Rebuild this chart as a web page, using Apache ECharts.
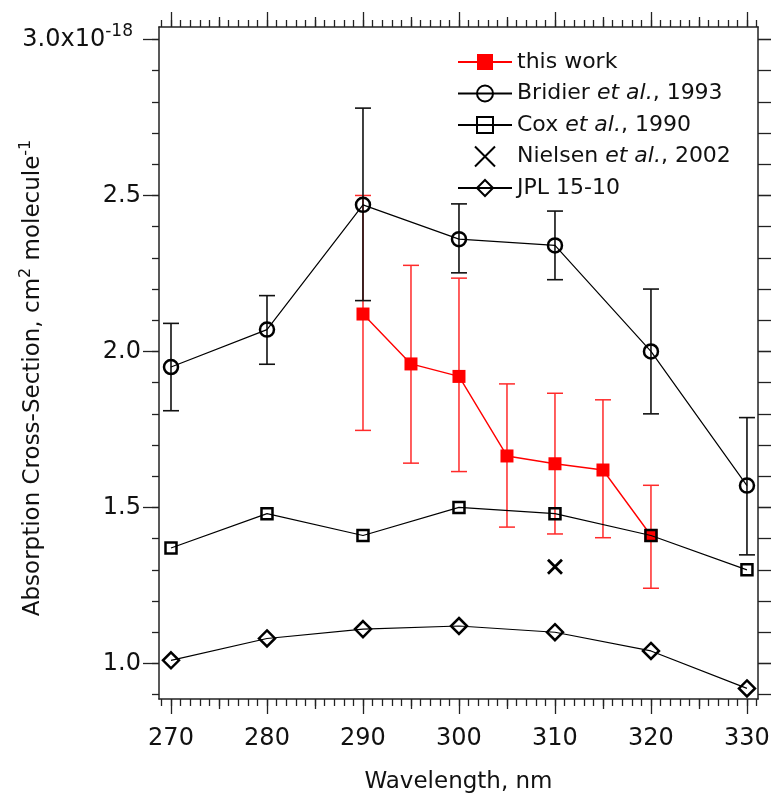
<!DOCTYPE html>
<html><head><meta charset="utf-8">
<script src="https://cdn.jsdelivr.net/npm/echarts@6/dist/echarts.min.js"></script>
<style>html,body{margin:0;padding:0;background:#fff}#c{width:771px;height:799px}</style>
</head><body><div id="c"></div>
<script>
// ---- data ----
const wavelengths = [270, 280, 290, 300, 310, 320, 330];
const thisWorkX = [290, 295, 300, 305, 310, 315, 320];
const thisWorkY = [2.12, 1.96, 1.92, 1.665, 1.64, 1.62, 1.41];
const thisWorkLow = [1.747, 1.642, 1.615, 1.437, 1.415, 1.403, 1.241];
const thisWorkHigh = [2.50, 2.276, 2.235, 1.896, 1.866, 1.845, 1.571];
const bridierY = [1.95, 2.07, 2.47, 2.36, 2.34, 2.00, 1.57];
const bridierLow = [1.81, 1.959, 2.163, 2.252, 2.23, 1.80, 1.348];
const bridierHigh = [2.09, 2.179, 2.78, 2.473, 2.45, 2.20, 1.788];
const coxY = [1.37, 1.48, 1.41, 1.50, 1.48, 1.41, 1.30];
const nielsenX = [310];
const nielsenY = [1.31];
const jplY = [1.01, 1.08, 1.11, 1.12, 1.10, 1.04, 0.92];
// ---- ticks ----
const xTicksMajor = [270, 280, 290, 300, 310, 320, 330];
const xTicksMid = [275, 285, 295, 305, 315, 325];
const xTicksMinor = [269,270,271,272,273,274,275,276,277,278,279,280,281,282,283,284,285,286,287,288,289,290,291,292,293,294,295,296,297,298,299,300,301,302,303,304,305,306,307,308,309,310,311,312,313,314,315,316,317,318,319,320,321,322,323,324,325,326,327,328,329,330,331];
const yTicksMajor = [1.0, 1.5, 2.0, 2.5, 3.0];
const yTicksMinor = [0.9,1.0,1.1,1.2,1.3,1.4,1.5,1.6,1.7,1.8,1.9,2.0,2.1,2.2,2.3,2.4,2.5,2.6,2.7,2.8,2.9,3.0];

const XMIN = 268.75, XMAX = 331.15, YMIN = 0.886, YMAX = 3.04;
const FONT = 'DejaVu Sans';
const AX = '#222';
const TXT = '#111';

function xAx(pos, ticks, len, labels, showLine) {
  return {
    type: 'value', position: pos, min: XMIN, max: XMAX,
    splitLine: {show: false},
    axisLine: {show: showLine, onZero: false, lineStyle: {color: AX, width: 1.5}},
    axisTick: {show: true, inside: false, length: len, customValues: ticks, lineStyle: {color: AX, width: 1.3}},
    axisLabel: labels ? {show: true, customValues: ticks, margin: 28, fontSize: 24, fontFamily: FONT, color: TXT} : {show: false},
    name: labels ? 'Wavelength, nm' : '', nameLocation: 'middle', nameGap: 72,
    nameTextStyle: {fontSize: 23, fontFamily: FONT, color: TXT}
  };
}
function yAx(pos, ticks, len, labels, showLine) {
  const a = {
    type: 'value', position: pos, min: YMIN, max: YMAX,
    splitLine: {show: false},
    axisLine: {show: showLine, onZero: false, lineStyle: {color: AX, width: 1.5}},
    axisTick: {show: true, inside: false, length: len, customValues: ticks, lineStyle: {color: AX, width: 1.3}},
    axisLabel: {show: false}
  };
  if (labels) {
    a.axisLabel = {
      show: true, customValues: ticks, margin: 18, fontSize: 24, fontFamily: FONT, color: TXT,
      formatter: v => Math.abs(v - 3) < 1e-6 ? '{a|3.0x10}{s|-18}' : v.toFixed(1),
      rich: {a: {fontSize: 24, fontFamily: FONT, color: TXT},
             s: {fontSize: 17, fontFamily: FONT, color: TXT, verticalAlign: 'bottom', padding: [0, 8, 16, 0]}}
    };
  }
  return a;
}

function errSeries(name, xs, lows, highs, color, lw, z) {
  return {
    name: name, type: 'custom', xAxisIndex: 0, yAxisIndex: 0, z: z, silent: true,
    data: xs.map((x, i) => [x, lows[i], highs[i]]),
    renderItem: (params, api) => {
      const x = api.value(0);
      const p1 = api.coord([x, api.value(1)]);
      const p2 = api.coord([x, api.value(2)]);
      const w = 8;
      const style = {stroke: color, lineWidth: lw, fill: null};
      return {type: 'group', children: [
        {type: 'line', shape: {x1: p1[0], y1: p1[1], x2: p2[0], y2: p2[1]}, style: style},
        {type: 'line', shape: {x1: p1[0] - w, y1: p1[1], x2: p1[0] + w, y2: p1[1]}, style: style},
        {type: 'line', shape: {x1: p2[0] - w, y1: p2[1], x2: p2[0] + w, y2: p2[1]}, style: style}
      ]};
    }
  };
}

const names = {
  tw: 'this work', br: 'Bridier et al., 1993', cox: 'Cox et al., 1990',
  ni: 'Nielsen et al., 2002', jpl: 'JPL 15-10'
};
const legendFmt = {
  'this work': '{n|this work}',
  'Bridier et al., 1993': '{n|Bridier }{i|et al.}{n|, 1993}',
  'Cox et al., 1990': '{n|Cox }{i|et al.}{n|, 1990}',
  'Nielsen et al., 2002': '{n|Nielsen }{i|et al.}{n|, 2002}',
  'JPL 15-10': '{n|JPL 15-10}'
};

const chart = echarts.init(document.getElementById('c'), null, {renderer: 'canvas'});
const black = '#000';
chart.setOption({
  animation: false,
  backgroundColor: '#fff',
  grid: {left: 159, right: 13, top: 27, bottom: 100, containLabel: false, outerBoundsMode: 'none'},
  graphic: [{
    type: 'text', x: 33, y: 378, rotation: Math.PI / 2, silent: true,
    style: {
      text: '{t|Absorption Cross-Section, cm}{s|2}{t| molecule}{s|-1}',
      align: 'center', verticalAlign: 'middle', fill: TXT,
      font: '23px "DejaVu Sans"',
      rich: {t: {fontSize: 23, fontFamily: FONT, fill: TXT, color: TXT},
             s: {fontSize: 16, fontFamily: FONT, fill: TXT, color: TXT, verticalAlign: 'bottom', padding: [0, 0, 14, 0]}}
    }
  }],
  xAxis: [
    xAx('bottom', xTicksMajor, 15, true, true),
    xAx('bottom', xTicksMid, 10, false, false),
    xAx('bottom', xTicksMinor, 7, false, false),
    xAx('top', xTicksMajor, 15, false, true),
    xAx('top', xTicksMid, 10, false, false),
    xAx('top', xTicksMinor, 7, false, false)
  ],
  yAxis: [
    yAx('left', yTicksMajor, 16, true, true),
    yAx('left', yTicksMinor, 7, false, false),
    yAx('right', yTicksMajor, 14, false, true),
    yAx('right', yTicksMinor, 14, false, false)
  ],
  legend: {
    left: 452, top: 45, orient: 'vertical', itemWidth: 54, itemHeight: 20, itemGap: 7.5,
    data: [names.tw, names.br, names.cox, names.ni, names.jpl],
    formatter: n => legendFmt[n],
    textStyle: {fontSize: 22, fontFamily: FONT, color: TXT, lineHeight: 24,
      rich: {n: {fontSize: 22, fontFamily: FONT, color: TXT, lineHeight: 24},
             i: {fontSize: 22, fontFamily: FONT, color: TXT, fontStyle: 'italic', lineHeight: 24}}}
  },
  series: [
    errSeries('twErr', thisWorkX, thisWorkLow, thisWorkHigh, '#ff2a2a', 1.5, 1),
    {
      name: names.tw, type: 'line', z: 2, data: thisWorkX.map((x, i) => [x, thisWorkY[i]]),
      symbol: 'rect', symbolSize: 13, lineStyle: {color: '#ff0000', width: 1.4},
      itemStyle: {color: '#ff0000', borderColor: '#ff0000', borderWidth: 0}
    },
    errSeries('brErr', wavelengths, bridierLow, bridierHigh, '#111', 1.6, 3),
    {
      name: names.br, type: 'line', z: 4, data: wavelengths.map((x, i) => [x, bridierY[i]]),
      symbol: 'circle', symbolSize: 14, lineStyle: {color: black, width: 1.2},
      itemStyle: {color: 'rgba(255,255,255,0)', borderColor: black, borderWidth: 2.5}
    },
    {
      name: names.cox, type: 'line', z: 4, data: wavelengths.map((x, i) => [x, coxY[i]]),
      symbol: 'rect', symbolSize: 11, lineStyle: {color: black, width: 1.2},
      itemStyle: {color: 'rgba(255,255,255,0)', borderColor: black, borderWidth: 2.5}
    },
    {
      name: names.ni, type: 'scatter', z: 4, data: nielsenX.map((x, i) => [x, nielsenY[i]]),
      symbol: 'path://M0,0L10,10M10,0L0,10', symbolSize: 14, symbolKeepAspect: true,
      itemStyle: {color: 'rgba(0,0,0,0)', borderColor: black, borderWidth: 2.8, opacity: 1}
    },
    {
      name: names.jpl, type: 'line', z: 4, data: wavelengths.map((x, i) => [x, jplY[i]]),
      symbol: 'diamond', symbolSize: 16, lineStyle: {color: black, width: 1.2},
      itemStyle: {color: 'rgba(255,255,255,0)', borderColor: black, borderWidth: 2.5}
    }
  ]
});
</script></body></html>
